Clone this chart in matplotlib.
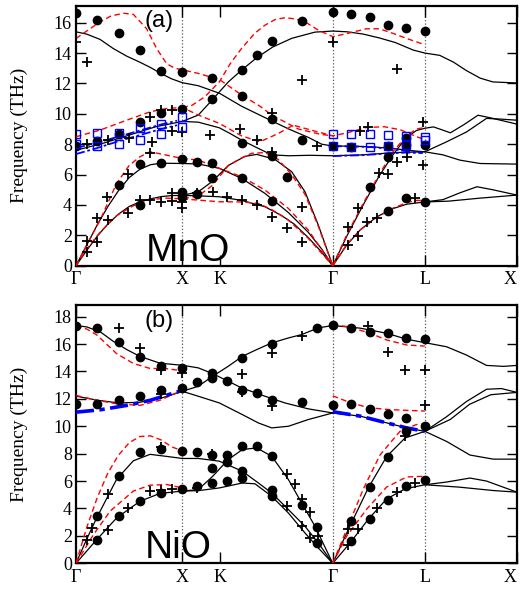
import numpy as np
import matplotlib
matplotlib.use('Agg')
import matplotlib.pyplot as plt

plt.rcParams['font.family'] = 'serif'
plt.rcParams['font.serif'] = ['Liberation Serif', 'DejaVu Serif']

# path Γ-X-K-Γ-L-X, segment lengths in 2π/a
seg_len = [1.0, 0.3536, 1.0607, 0.8660, 0.8660]
sym_pos = np.concatenate([[0], np.cumsum(seg_len)])
sym_labels = ['Γ', 'X', 'K', 'Γ', 'L', 'X']

# ---------------- MnO (a) ----------------
mno_calc = [
    [(0, 15.4), (0.1, 15.25), (0.226, 14.9), (0.35, 14.3), (0.476, 13.8), (0.6, 13.4), (0.7, 13.05),
     (0.8, 12.65), (0.9, 12.3), (1.0, 12.05), (1.15, 11.85), (1.35, 11.35), (1.557, 10.5), (1.777, 9.75),
     (2.0, 9.0), (2.184, 8.45), (2.31, 8.0), (2.414, 7.88)],
    [(0, 7.6), (0.25, 8.05), (0.5, 8.6), (0.75, 9.15), (1.0, 9.5)],
    [(0, 0), (0.1, 1.35), (0.2, 2.7), (0.3, 3.9), (0.4, 4.95), (0.5, 5.8), (0.6, 6.35), (0.7, 6.65),
     (0.8, 6.75), (0.9, 6.74), (1.0, 6.73), (1.15, 6.7), (1.348, 6.41), (1.557, 5.75), (1.777, 4.76),
     (1.997, 3.5), (2.184, 2.2), (2.31, 1.1), (2.414, 0)],
    [(0, 0), (0.1, 1.0), (0.2, 1.95), (0.3, 2.75), (0.4, 3.4), (0.5, 3.9), (0.6, 4.2), (0.7, 4.4),
     (0.8, 4.55), (0.9, 4.62), (1.0, 4.63), (1.15, 4.87), (1.285, 5.57), (1.432, 6.6), (1.589, 7.2),
     (1.7, 7.33), (1.87, 7.0), (2.028, 6.19), (2.153, 4.87), (2.278, 2.68), (2.414, 0)],
    [(1.0, 4.63), (1.15, 4.6), (1.348, 4.54), (1.557, 4.3), (1.777, 3.88), (1.934, 3.3), (2.05, 2.75),
     (2.184, 1.85), (2.3, 0.97), (2.414, 0)],
    [(1.0, 9.5), (1.15, 9.92), (1.285, 10.95), (1.432, 12.1), (1.557, 12.88), (1.7, 13.7), (1.85, 14.4),
     (2.028, 14.97), (2.247, 15.38), (2.414, 15.45), (2.55, 15.4), (2.7, 15.25), (2.85, 15.0), (3.0, 14.7),
     (3.17, 14.2), (3.28, 14.0), (3.42, 13.85), (3.55, 13.4), (3.67, 12.85), (3.8, 12.35), (3.92, 12.1),
     (4.146, 12.03)],
    [(1.0, 9.5), (1.15, 9.45), (1.348, 9.08), (1.45, 8.7), (1.557, 8.27), (1.715, 7.72), (1.84, 7.3),
     (2.0, 7.24), (2.2, 7.27), (2.414, 7.24), (2.7, 7.3), (3.0, 7.45), (3.28, 7.5), (3.45, 7.3),
     (3.61, 6.95), (3.8, 6.73), (4.146, 6.69)],
    [(2.414, 0), (2.55, 2.0), (2.7, 4.0), (2.85, 5.9), (2.98, 7.3), (3.1, 8.4), (3.2, 8.9), (3.28, 9.05),
     (3.36, 9.14), (3.44, 8.95), (3.52, 8.75), (3.65, 9.3), (3.78, 9.91), (3.92, 9.7), (4.146, 9.32)],
    [(2.414, 0), (2.545, 1.36), (2.671, 2.35), (2.828, 3.22), (2.984, 3.77), (3.109, 4.05), (3.28, 4.2),
     (3.45, 4.35), (3.61, 4.8), (3.77, 5.2), (3.92, 5.0), (4.146, 4.65)],
    [(3.28, 4.2), (3.5, 4.25), (3.8, 4.45), (4.146, 4.65)],
    [(2.414, 7.88), (2.6, 7.87), (2.8, 7.82), (3.0, 7.7), (3.15, 7.58), (3.28, 7.5), (3.485, 8.16),
     (3.67, 8.8), (3.86, 9.7), (4.0, 9.65), (4.146, 9.58)],
]

mno_red = [
    [(0, 14.96), (0.1, 15.45), (0.226, 16.05), (0.33, 16.45), (0.45, 16.62), (0.539, 16.55), (0.664, 15.6),
     (0.758, 14.3), (0.852, 13.3), (0.93, 13.0), (1.0, 12.9), (1.15, 12.66), (1.35, 12.25), (1.557, 11.24),
     (1.73, 10.5), (1.84, 9.92), (2.09, 9.0), (2.3, 8.65), (2.414, 8.55)],
    [(0, 8.49), (0.226, 8.93), (0.476, 9.58), (0.696, 10.13), (0.85, 10.35), (1.0, 10.42), (1.15, 9.92),
     (1.348, 9.37), (1.557, 8.55), (1.73, 8.16), (1.9, 8.7), (2.043, 9.25), (2.2, 8.95), (2.414, 8.55),
     (2.55, 8.75), (2.73, 9.1), (2.9, 9.15), (3.05, 8.95), (3.2, 8.5), (3.28, 8.3)],
    [(1.0, 10.42), (1.088, 10.55), (1.213, 11.13), (1.348, 12.11), (1.45, 13.3), (1.557, 14.31),
     (1.68, 15.3), (1.777, 15.84), (1.87, 16.2), (1.965, 16.33), (2.06, 16.25), (2.153, 16.06),
     (2.278, 15.51), (2.414, 15.08), (2.545, 15.28), (2.73, 15.6), (2.85, 15.6), (2.984, 15.29),
     (3.109, 14.96), (3.28, 14.55)],
    [(0, 0), (0.1, 1.35), (0.226, 3.0), (0.382, 5.42), (0.5, 6.6), (0.6, 7.17), (0.696, 7.5), (0.852, 7.28),
     (1.0, 7.06), (1.15, 6.96), (1.348, 6.41), (1.557, 5.86), (1.777, 4.98), (1.997, 3.77), (2.184, 2.35),
     (2.414, 0)],
    [(0, 0), (0.1, 1.1), (0.226, 2.2), (0.382, 3.3), (0.539, 3.95), (0.696, 4.35), (0.852, 4.45), (1.0, 4.4),
     (1.15, 4.6), (1.285, 5.3), (1.432, 6.6), (1.557, 7.1), (1.652, 7.4), (1.777, 7.45), (1.9, 7.0),
     (2.028, 6.0), (2.153, 4.7), (2.278, 2.6), (2.414, 0)],
    [(1.0, 4.4), (1.15, 4.32), (1.348, 4.21), (1.557, 4.2), (1.715, 4.1), (1.84, 3.7), (1.997, 3.0),
     (2.184, 1.8), (2.414, 0)],
    [(2.414, 0), (2.55, 2.1), (2.7, 4.1), (2.85, 6.0), (2.98, 7.5), (3.1, 8.5), (3.2, 9.0), (3.28, 9.1)],
    [(2.414, 0), (2.545, 1.4), (2.671, 2.35), (2.828, 3.2), (2.984, 3.8), (3.109, 4.15), (3.2, 4.3), (3.28, 4.3)],
]

mno_blue = [
    [(0, 7.75), (0.2, 8.1), (0.4, 8.5), (0.6, 8.9), (0.8, 9.3), (0.95, 9.55)],
    [(0, 7.35), (0.2, 7.75), (0.4, 8.2), (0.6, 8.6), (0.8, 9.0), (0.95, 9.25)],
    [(2.414, 7.87), (2.6, 7.86), (2.8, 7.8), (3.0, 7.65), (3.15, 7.5), (3.26, 7.45)],
    [(2.414, 7.22), (2.7, 7.28), (2.9, 7.38), (3.1, 7.45), (3.26, 7.42)],
]

mno_sq_q = [0, 0, 0.2, 0.2, 0.4, 0.4, 0.6, 0.6, 0.8, 0.8, 1.0, 1.0,
            2.414, 2.414, 2.587, 2.587, 2.76, 2.76, 2.934, 2.934, 3.107, 3.107, 3.28, 3.28]
mno_sq_f = [8.7, 7.99, 8.75, 7.89, 8.75, 8.0, 9.05, 8.27, 9.32, 8.7, 9.76, 9.14,
            8.66, 7.89, 8.7, 7.83, 8.7, 7.83, 8.6, 7.89, 8.53, 7.94, 8.49, 8.27]

mno_circ = [
    (0, 16.67), (0.2, 16.16), (0.4, 15.29), (0.6, 14.19), (0.8, 12.83), (1.0, 12.76),
    (0, 7.89), (0.2, 8.22), (0.4, 8.7), (0.6, 9.47), (0.8, 10.07), (1.0, 10.35),
    (0.4, 5.31), (0.6, 6.69), (0.8, 6.78), (1.0, 7.0), (0.6, 4.0), (1.0, 4.55), (1.0, 4.85),
    (1.134, 6.85), (1.134, 4.7), (1.275, 12.38), (1.275, 10.95), (1.275, 6.74), (1.275, 5.79),
    (1.564, 12.88), (1.564, 11.19), (1.564, 8.1), (1.564, 5.75), (1.699, 13.87), (1.84, 14.79),
    (1.84, 9.66), (1.84, 7.24), (1.84, 4.26), (1.984, 5.84), (2.122, 16.1), (2.122, 8.27),
    (2.414, 16.72), (2.414, 7.9),
    (2.587, 16.56), (2.76, 16.38), (2.934, 15.83), (3.107, 15.68), (3.28, 15.46), (2.587, 7.83),
    (2.934, 7.89), (3.107, 7.94), (3.28, 7.94), (2.934, 7.17), (3.107, 8.38), (2.76, 5.2),
    (2.934, 3.62), (3.107, 4.43), (3.28, 4.21),
]

mno_cross = [
    (0, 14.74), (0.107, 13.42), (0.107, 8.0), (0.3, 8.31), (0.5, 8.4), (0.7, 9.76), (0.8, 10.24),
    (0.9, 10.24), (0.9, 8.86), (0.71, 8.16), (1.0, 8.82),
    (0.107, 1.64), (0.107, 0.92), (0.2, 3.11), (0.2, 1.58), (0.29, 4.54), (0.3, 3.0), (0.49, 6.07),
    (0.49, 3.44), (0.6, 4.32), (0.7, 7.43), (0.7, 4.32), (0.8, 4.21), (0.9, 4.76), (0.9, 4.25),
    (1.0, 4.76), (1.0, 4.17), (1.0, 3.77),
    (1.134, 4.8), (1.26, 8.6), (1.29, 4.87), (1.42, 4.5), (1.54, 9.03), (1.564, 4.32), (1.7, 8.27),
    (1.699, 3.99), (1.84, 10.03), (1.84, 7.5), (1.84, 3.22), (1.984, 2.5), (2.122, 12.22),
    (2.122, 3.88), (2.122, 1.54), (2.262, 7.89), (2.414, 14.7),
    (2.671, 8.86), (2.75, 9.14), (3.014, 12.98), (3.014, 6.84), (3.109, 7.17), (3.266, 9.43),
    (3.266, 6.62), (2.56, 2.57), (2.56, 1.36), (2.655, 3.77), (2.655, 1.97), (2.735, 2.89),
    (2.828, 3.11), (2.937, 6.07), (2.85, 6.12), (3.188, 4.43),
]

# ---------------- NiO (b) ----------------
nio_calc = [
    [(0, 17.35), (0.1, 17.25), (0.226, 16.9), (0.35, 16.2), (0.476, 15.6), (0.6, 15.1), (0.79, 14.6),
     (1.0, 14.45), (1.15, 14.26), (1.285, 13.84), (1.432, 13.28), (1.557, 12.8), (1.777, 12.19),
     (1.965, 11.7), (2.184, 11.27), (2.414, 10.97)],
    [(1.0, 12.55), (1.15, 12.92), (1.285, 13.65), (1.432, 14.38), (1.564, 15.1), (1.7, 15.6), (1.84, 16.08),
     (2.0, 16.45), (2.122, 16.69), (2.278, 17.18), (2.414, 17.35), (2.671, 17.16), (2.92, 16.79),
     (3.109, 16.35), (3.28, 16.1), (3.485, 15.8), (3.67, 15.2), (3.86, 14.44), (4.02, 14.37), (4.146, 14.44)],
    [(1.0, 12.55), (1.15, 12.19), (1.348, 11.7), (1.564, 10.85), (1.715, 10.24), (1.84, 9.88),
     (1.997, 10.0), (2.184, 10.49), (2.414, 10.97)],
    [(0, 12.2), (0.2, 11.9), (0.4, 11.7), (0.6, 11.75), (0.8, 12.05), (1.0, 12.55)],
    [(2.414, 10.97), (2.671, 10.74), (2.92, 10.25), (3.109, 9.88), (3.28, 9.63)],
    [(0, 0), (0.1, 1.75), (0.194, 3.31), (0.382, 6.13), (0.539, 7.48), (0.696, 7.95), (0.852, 7.8),
     (1.0, 7.65), (1.15, 7.65), (1.348, 7.45), (1.564, 6.72), (1.715, 5.86), (1.84, 5.13), (1.997, 3.92),
     (2.153, 2.7), (2.278, 1.48), (2.414, 0)],
    [(0, 0), (0.194, 1.72), (0.382, 3.31), (0.602, 4.53), (0.79, 5.1), (1.0, 5.27), (1.15, 5.38),
     (1.285, 6.35), (1.432, 7.57), (1.564, 8.3), (1.699, 8.42), (1.84, 7.81), (1.997, 6.11), (2.122, 4.4),
     (2.247, 2.7), (2.414, 0)],
    [(1.0, 5.27), (1.15, 5.3), (1.348, 5.5), (1.564, 5.86), (1.683, 5.8), (1.84, 4.89), (1.997, 3.67),
     (2.153, 2.21), (2.278, 1.12), (2.414, 0)],
    [(2.414, 0), (2.576, 2.72), (2.748, 5.5), (2.92, 7.78), (3.093, 9.14), (3.28, 9.63), (3.485, 10.7),
     (3.67, 11.8), (3.86, 12.7), (4.0, 12.75), (4.146, 12.47)],
    [(2.414, 0), (2.576, 1.48), (2.748, 3.21), (2.92, 4.69), (3.093, 5.43), (3.28, 5.73), (3.485, 5.93),
     (3.704, 6.22), (3.86, 6.0), (4.146, 5.19)],
    [(3.28, 9.63), (3.52, 10.5), (3.7, 11.6), (3.9, 12.3), (4.146, 12.47)],
    [(3.28, 9.63), (3.485, 8.89), (3.704, 7.9), (3.923, 7.6), (4.146, 7.6)],
    [(3.28, 5.73), (3.6, 5.56), (3.923, 5.31), (4.146, 5.19)],
]

nio_red = [
    [(0, 17.28), (0.1, 17.1), (0.194, 16.67), (0.3, 15.9), (0.382, 15.3), (0.539, 14.58), (0.696, 14.22),
     (0.852, 14.2), (1.0, 14.05)],
    [(0, 12.25), (0.194, 11.9), (0.382, 11.64), (0.6, 11.52), (0.79, 11.9), (1.0, 12.62)],
    [(0, 0), (0.1, 2.6), (0.2, 4.8), (0.3, 6.6), (0.4, 7.9), (0.5, 8.8), (0.6, 9.25), (0.7, 9.3),
     (0.8, 9.0), (0.9, 8.5), (1.0, 8.2)],
    [(0, 0), (0.163, 2.08), (0.32, 3.8), (0.539, 5.27), (0.696, 5.7), (0.852, 5.75), (1.0, 5.5)],
    [(2.414, 17.4), (2.545, 17.28), (2.748, 16.84), (2.92, 16.3), (3.109, 15.93), (3.28, 15.85)],
    [(2.414, 12.22), (2.576, 11.73), (2.748, 11.36), (2.92, 11.23), (3.109, 11.16), (3.28, 11.11)],
    [(2.414, 0), (2.545, 2.47), (2.702, 5.43), (2.858, 7.9), (3.046, 9.63), (3.2, 10.12), (3.28, 10.17)],
    [(2.414, 0), (2.545, 1.98), (2.733, 3.95), (2.92, 5.56), (3.109, 6.3), (3.28, 6.35)],
]

nio_blue = [
    [(0, 11.03), (0.226, 11.2), (0.476, 11.52), (0.696, 11.89), (1.0, 12.62)],
    [(2.414, 11.06), (2.671, 10.74), (2.92, 10.25), (3.109, 9.88), (3.28, 9.63)],
]

nio_circ = [
    (0, 17.28), (0.2, 17.16), (0.4, 16.18), (0.6, 15.07), (0.8, 14.39), (1.0, 14.26),
    (0, 11.64), (0.2, 11.64), (0.4, 11.94), (0.6, 12.2), (0.8, 12.62), (1.0, 12.8),
    (0.2, 3.43), (0.2, 1.72), (0.4, 6.37), (0.4, 3.43), (0.6, 8.09), (0.6, 4.53), (0.8, 8.33),
    (0.8, 5.15), (1.0, 8.22), (1.0, 5.43),
    (1.134, 13.21), (1.275, 13.89), (1.275, 13.53), (1.416, 13.33), (1.564, 14.99), (1.564, 12.63),
    (1.699, 12.43), (1.84, 16.03), (1.84, 11.95), (2.122, 11.75), (2.263, 17.18), (2.414, 11.58),
    (1.134, 8.1), (1.275, 7.93), (1.416, 7.93), (1.564, 8.54), (1.699, 8.59), (1.84, 7.81),
    (1.275, 6.96), (1.416, 7.37), (1.564, 6.76), (1.564, 6.23), (1.275, 5.86), (1.416, 5.99),
    (1.134, 5.67), (1.84, 5.38), (1.84, 4.94), (2.122, 4.28), (2.263, 2.63), (2.263, 1.48),
    (2.414, 17.41), (2.587, 17.16), (2.76, 16.91), (2.934, 16.84), (3.107, 16.47), (3.28, 16.35),
    (2.587, 11.6), (2.76, 11.23), (2.934, 10.91), (3.107, 10.62), (3.28, 10.0), (3.107, 9.63),
    (2.587, 3.09), (2.587, 1.6), (2.76, 5.56), (2.76, 3.26), (2.934, 7.78), (2.934, 4.64),
    (3.107, 5.63), (3.28, 6.05),
]

nio_cross = [
    (0.107, 1.72), (0.147, 2.57), (0.304, 5.02), (0.304, 2.45), (0.49, 4.04), (0.696, 5.27), (0.8, 5.32),
    (0.9, 5.44), (0.8, 8.46), (0.4, 17.16), (0.6, 15.69), (0.8, 14.09), (1.0, 13.85), (0.8, 12.38),
    (1.564, 13.84), (1.84, 15.35), (2.122, 16.57), (1.564, 12.48), (1.84, 11.46), (1.275, 8.0),
    (1.134, 5.5), (1.98, 6.55), (2.06, 5.79), (1.98, 4.16), (2.122, 4.7), (2.2, 3.72), (2.122, 2.7),
    (2.278, 1.97), (2.2, 1.85),
    (2.748, 17.28), (2.937, 15.43), (3.093, 14.07), (3.28, 14.07), (3.28, 11.53), (3.093, 9.26),
    (2.56, 2.47), (2.56, 1.36), (2.65, 2.47), (2.828, 4.07), (3.014, 5.19), (3.188, 5.85),
]


def draw_panel(ax, calc, red, blue, blue_lw, circ, cross, ymax, yticks, name, tag, name_pos, tag_pos):
    for q in sym_pos[[1, 3, 4]]:
        ax.axvline(q, color='0.35', ls=':', lw=0.9, zorder=1)
    for br in calc:
        q, f = zip(*br)
        ax.plot(q, f, color='black', lw=0.9, zorder=2)
    for br in red:
        q, f = zip(*br)
        ax.plot(q, f, color='red', lw=1.0, dashes=(4, 2.5), zorder=3)
    for br in blue:
        q, f = zip(*br)
        ax.plot(q, f, color='blue', lw=blue_lw, dashes=(5, 1.5, 1.5, 1.5), zorder=4)
    q, f = zip(*circ)
    ax.plot(q, f, 'o', color='black', ms=6, zorder=5)
    q, f = zip(*cross)
    ax.plot(q, f, '+', color='black', ms=7, mew=1.3, zorder=5)

    ax.set_xlim(sym_pos[0], sym_pos[-1])
    ax.set_ylim(0, ymax)
    ax.set_xticks(sym_pos)
    ax.set_xticklabels(sym_labels)
    ax.get_xticklabels()[-1].set_horizontalalignment('right')
    ax.set_yticks(yticks)
    ax.tick_params(axis='both', direction='in', labelsize=13, width=1)
    ax.tick_params(axis='y', length=7, right=True, pad=3)
    ax.tick_params(axis='x', length=8, top=True, pad=4)
    for sp in ax.spines.values():
        sp.set_linewidth(1.6)
    ax.set_ylabel('Frequency (THz)', fontsize=14)
    ax.yaxis.set_label_coords(-0.108, 0.5)
    ax.text(name_pos[0], name_pos[1], name, family='Liberation Sans', fontsize=28,
            ha='center', va='baseline', zorder=6)
    ax.text(tag_pos[0], tag_pos[1], tag, family='Liberation Sans', fontsize=17,
            ha='center', va='center', zorder=6)


fig = plt.figure(figsize=(5.21, 5.93), dpi=100)
ax_a = fig.add_axes([0.1459, 0.5519, 0.8464, 0.438])
ax_b = fig.add_axes([0.1459, 0.0501, 0.8464, 0.4356])

draw_panel(ax_a, mno_calc, mno_red, mno_blue, 1.3, mno_circ, mno_cross, 17.1,
           np.arange(0, 17, 2), 'MnO', '(a)', (1.05, 0.3), (0.78, 16.1))
ax_a.plot(mno_sq_q, mno_sq_f, 's', mfc='none', mec='blue', ms=5.5, mew=1.0, zorder=6)

draw_panel(ax_b, nio_calc, nio_red, nio_blue, 2.6, nio_circ, nio_cross, 18.85,
           np.arange(0, 19, 2), 'NiO', '(b)', (0.96, 0.35), (0.78, 17.7))

fig.savefig('out.png', dpi=100)
